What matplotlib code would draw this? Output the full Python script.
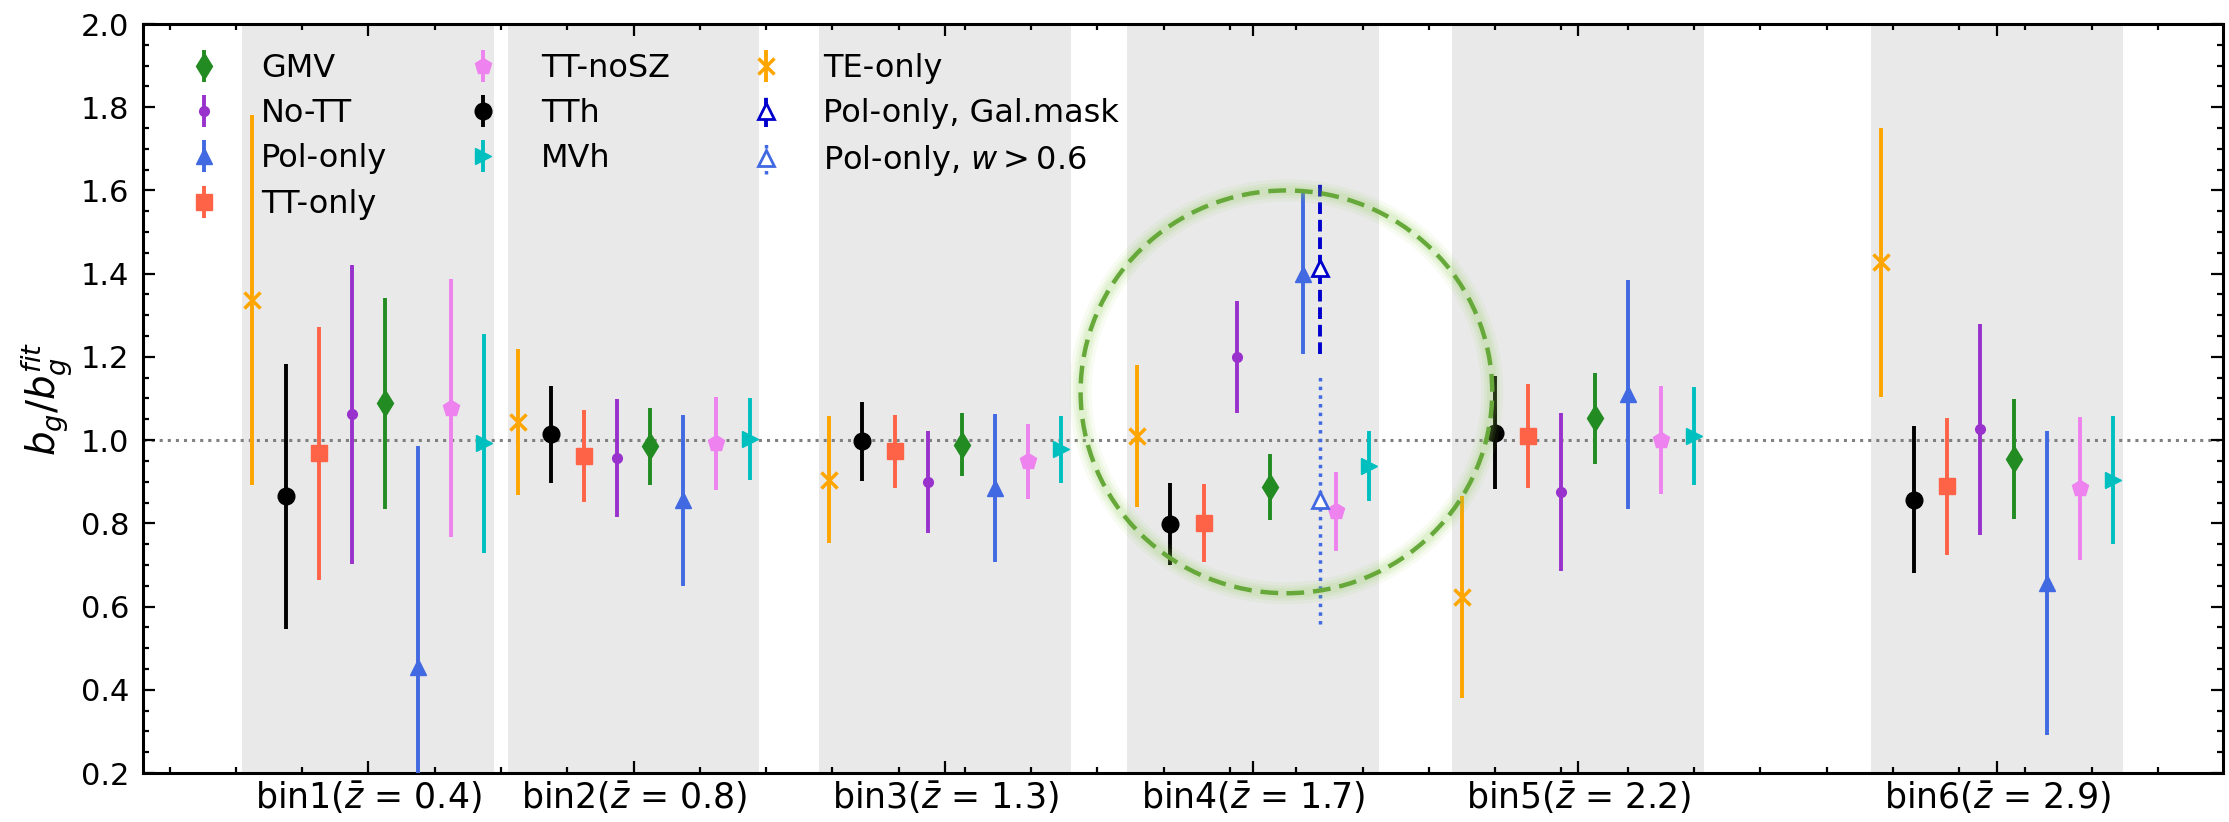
import numpy as np
import matplotlib
matplotlib.use("Agg")
import matplotlib.pyplot as plt
from matplotlib.patches import Ellipse
from matplotlib.ticker import MultipleLocator

# ---------------- data ----------------
bin_labels = [r"bin1($\bar{z}$ = 0.4)", r"bin2($\bar{z}$ = 0.8)", r"bin3($\bar{z}$ = 1.3)",
              r"bin4($\bar{z}$ = 1.7)", r"bin5($\bar{z}$ = 2.2)", r"bin6($\bar{z}$ = 2.9)"]
zbar_pos = [0.400, 0.800, 1.270, 1.735, 2.225, 2.857]

TE_only = [1.336, 1.043, 0.905, 1.010, 0.623, 1.427]
TE_only_err = [0.445, 0.175, 0.153, 0.170, 0.242, 0.323]
TTh = [0.865, 1.014, 0.997, 0.799, 1.018, 0.857]
TTh_err = [0.318, 0.116, 0.095, 0.099, 0.135, 0.177]
TT_only = [0.968, 0.962, 0.973, 0.801, 1.009, 0.889]
TT_only_err = [0.303, 0.111, 0.088, 0.093, 0.125, 0.165]
No_TT = [1.062, 0.957, 0.899, 1.200, 0.875, 1.026]
No_TT_err = [0.360, 0.142, 0.122, 0.135, 0.190, 0.253]
GMV = [1.088, 0.985, 0.989, 0.887, 1.052, 0.954]
GMV_err = [0.254, 0.093, 0.075, 0.079, 0.110, 0.144]
Pol_only = [0.455, 0.855, 0.884, 1.400, 1.110, 0.656]
Pol_only_err = [0.530, 0.206, 0.178, 0.193, 0.275, 0.365]
TT_noSZ = [1.076, 0.992, 0.949, 0.829, 1.000, 0.884]
TT_noSZ_err = [0.310, 0.112, 0.090, 0.095, 0.129, 0.172]
MVh = [0.992, 1.002, 0.978, 0.937, 1.009, 0.905]
MVh_err = [0.263, 0.099, 0.081, 0.084, 0.118, 0.154]

# bin4 only extra tests
Pol_galmask = [1.413]
Pol_galmask_err = [0.207]
Pol_w06 = [0.857]
Pol_w06_err = [0.300]

# ---------------- figure ----------------
W, H = 2229, 822
fig = plt.figure(figsize=(W / 100, H / 100), dpi=100)
ax = fig.add_axes([143 / W, 49 / H, (2223 - 143) / W, (773 - 24) / H])

FS = 22
step = 0.05
half = 0.19
zb = np.array(zbar_pos)

for c in zb:
    ax.axvspan(c - half, c + half, color="#e9e9e9", lw=0, zorder=0)

ax.axhline(1.0, color="gray", ls=":", lw=2.2, zorder=1)

series = [
    ("TE-only", TE_only, TE_only_err, "orange", "x", 12),
    ("TTh", TTh, TTh_err, "black", "o", 12),
    ("TT-only", TT_only, TT_only_err, "tomato", "s", 12),
    ("No-TT", No_TT, No_TT_err, "darkorchid", ".", 14),
    ("GMV", GMV, GMV_err, "forestgreen", "d", 13),
    ("Pol-only", Pol_only, Pol_only_err, "royalblue", "^", 12),
    ("TT-noSZ", TT_noSZ, TT_noSZ_err, "violet", "p", 12),
    ("MVh", MVh, MVh_err, "c", ">", 12),
]

handles = {}
for i, (name, vals, errs, col, mk, ms) in enumerate(series):
    off = (i - 3.5) * step
    eb = ax.errorbar(zb + off, vals, yerr=errs, fmt=mk, color=col, ms=ms,
                     mew=2.5 if mk == "x" else 1, elinewidth=2.8, capsize=0,
                     zorder=3, label=name)
    handles[name] = eb

# bin4 extra points
x4 = zb[3] + 0.10
eb_g = ax.errorbar([x4], Pol_galmask, yerr=Pol_galmask_err, fmt="^", color="mediumblue",
                   mfc="white", mec="mediumblue", mew=2, ms=12, elinewidth=2.8,
                   capsize=0, zorder=4)
eb_g[2][0].set_linestyle((0, (3, 1.5)))
eb_w = ax.errorbar([x4], Pol_w06, yerr=Pol_w06_err, fmt="^", color="royalblue",
                   mfc="white", mec="royalblue", mew=2, ms=12, elinewidth=2.5,
                   capsize=0, zorder=4)
eb_w[2][0].set_linestyle((0, (1, 1.5)))
handles["Pol-only, Gal.mask"] = eb_g
handles[r"Pol-only, $w>0.6$"] = eb_w

# highlighted circle around bin4
ecx, ecy, ew, eh = 1.785, 1.116, 0.621, 0.968
for lw, a in [(16, 0.07), (11, 0.10), (7, 0.12)]:
    ax.add_patch(Ellipse((ecx, ecy), ew, eh, fill=False, ec="#8fcf4f", lw=lw,
                         alpha=a, zorder=5))
ax.add_patch(Ellipse((ecx, ecy), ew, eh, fill=False, ec="#66a83a", lw=3.2,
                     ls=(0, (4, 2)), zorder=6))

# axes
ax.set_xlim(0.06, 3.198)
ax.set_ylim(0.2, 2.0)
ax.set_xticks(zb)
ax.set_xticklabels(bin_labels, fontsize=25)
ax.xaxis.set_minor_locator(MultipleLocator(0.1))
ax.yaxis.set_major_locator(MultipleLocator(0.2))
ax.yaxis.set_minor_locator(MultipleLocator(0.05))
ax.tick_params(which="both", direction="in", top=True, right=True, width=1.6)
ax.tick_params(which="major", length=8.5)
ax.tick_params(which="minor", length=4.5)
ax.tick_params(axis="y", labelsize=FS, pad=10)
ax.tick_params(axis="x", pad=5)
for s in ax.spines.values():
    s.set_linewidth(2.2)
ax.set_ylabel(r"$b_g/b_g^{fit}$", fontsize=28, labelpad=4)

order = ["GMV", "No-TT", "Pol-only", "TT-only", "TT-noSZ", "TTh", "MVh",
         "TE-only", "Pol-only, Gal.mask", r"Pol-only, $w>0.6$"]
ax.legend([handles[k] for k in order], order, ncol=3, loc="upper left",
          frameon=False, fontsize=23, labelspacing=0.45, columnspacing=2.0,
          handletextpad=0.8)

fig.savefig("out.png", dpi=100)
